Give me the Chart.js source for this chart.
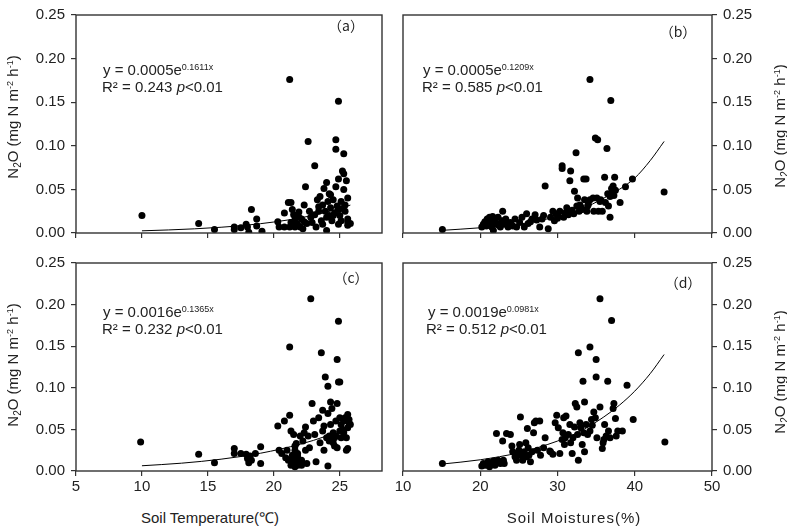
<!DOCTYPE html>
<html>
<head>
<meta charset="utf-8">
<script src="https://cdn.jsdelivr.net/npm/chart.js@4.4.1/dist/chart.umd.min.js"></script>
<style>
  body { margin: 0; background: #fff; width: 787px; height: 529px; position: relative; overflow: hidden;
         font-family: "Liberation Sans", Arial, sans-serif; color: #222; }
  canvas { position: absolute; }
  .t { position: absolute; white-space: nowrap; font-size: 15px; line-height: 17px; }
  .c { position: absolute; white-space: nowrap; transform: translate(-50%, -50%); }
  .yt { position: absolute; white-space: nowrap; font-size: 15px; transform: translate(-50%, -50%) rotate(-90deg); }
  .lab { font-family: "Noto Sans CJK SC", sans-serif; font-size: 14px; }
  sup.s { font-size: 9px; vertical-align: 5px; line-height: 0; }
  sup.u { font-size: 9px; vertical-align: 5px; line-height: 0; }
  sub { font-size: 10px; vertical-align: -3px; line-height: 0; }
</style>
</head>
<body>
<canvas id="pa" width="400" height="248" style="left:0;top:0"></canvas>
<canvas id="pb" width="397" height="248" style="left:390px;top:0"></canvas>
<canvas id="pc" width="400" height="252" style="left:0;top:248px"></canvas>
<canvas id="pd" width="397" height="252" style="left:390px;top:248px"></canvas>

<div class="t" style="left:103px;top:61px">y = 0.0005e<sup class="s">0.1611x</sup></div>
<div class="t" style="left:102px;top:78px">R² = 0.243 <i>p</i>&lt;0.01</div>
<div class="t" style="left:423px;top:61px">y = 0.0005e<sup class="s">0.1209x</sup></div>
<div class="t" style="left:422px;top:78px">R² = 0.585 <i>p</i>&lt;0.01</div>
<div class="t" style="left:103px;top:303px">y = 0.0016e<sup class="s">0.1365x</sup></div>
<div class="t" style="left:102px;top:320px">R² = 0.232 <i>p</i>&lt;0.01</div>
<div class="t" style="left:428px;top:303px">y = 0.0019e<sup class="s">0.0981x</sup></div>
<div class="t" style="left:426px;top:320px">R² = 0.512 <i>p</i>&lt;0.01</div>

<div class="c lab" style="left:346px;top:25px">（a）</div>
<div class="c lab" style="left:678px;top:31px">（b）</div>
<div class="c lab" style="left:351px;top:277px">（c）</div>
<div class="c lab" style="left:683px;top:282px">（d）</div>

<div class="yt" style="left:12px;top:117px">N<sub>2</sub>O (mg N m<sup class="u">-2</sup> h<sup class="u">-1</sup>)</div>
<div class="yt" style="left:779px;top:126px">N<sub>2</sub>O (mg N m<sup class="u">-2</sup> h<sup class="u">-1</sup>)</div>
<div class="yt" style="left:12px;top:365px">N<sub>2</sub>O (mg N m<sup class="u">-2</sup> h<sup class="u">-1</sup>)</div>
<div class="yt" style="left:779px;top:372px">N<sub>2</sub>O (mg N m<sup class="u">-2</sup> h<sup class="u">-1</sup>)</div>

<div class="c" style="left:210px;top:517px;font-size:15px">Soil Temperature(℃)</div>
<div class="c" style="left:574px;top:517px;font-size:15px;letter-spacing:1px">Soil Moistures(%)</div>

<script>
// (a) soil temperature vs N2O
const tempA = [10,14.3,15.5,17.0,17.0,17.5,17.9,18.0,18.1,18.3,
  18.7,18.7,19.1,20.3,20.4,20.8,20.8,21.1,21.2,21.2,
  21.3,21.4,21.5,21.6,21.6,21.7,21.8,21.9,22.0,22.1,
  22.2,22.3,22.3,22.4,22.6,22.7,22.8,23.1,23.1,23.2,
  23.3,23.4,23.5,23.6,23.7,23.7,23.8,23.9,24.0,24.0,
  24.1,24.2,24.2,24.3,24.4,24.5,24.6,24.7,24.7,24.7,
  24.8,24.9,24.9,24.9,25.0,25.1,25.1,25.2,25.3,25.3,
  25.3,25.4,25.5,25.6,25.6,25.6,23.4,24.5,24.9,24.0,
  21.3,21.7,22.5,25.6,25.4,24.3,21.9,22.9,25.8,25.2];
const n2oA = [0.020,0.011,0.004,0.007,0.004,0.006,0.010,0.007,0.001,0.027,
  0.016,0.008,0.002,0.013,0.007,0.023,0.007,0.035,0.176,0.007,
  0.035,0.027,0.021,0.015,0.007,0.020,0.010,0.018,0.007,0.016,
  0.005,0.013,0.032,0.053,0.105,0.025,0.018,0.077,0.021,0.007,
  0.038,0.025,0.042,0.014,0.032,0.010,0.051,0.025,0.003,0.058,
  0.036,0.045,0.020,0.029,0.014,0.038,0.023,0.053,0.107,0.096,
  0.031,0.151,0.010,0.062,0.020,0.036,0.014,0.071,0.068,0.091,
  0.050,0.025,0.060,0.009,0.016,0.040,0.030,0.020,0.027,0.018,
  0.012,0.009,0.011,0.013,0.032,0.044,0.024,0.012,0.011,0.028];
const fitXA = [10,12,14,16,18,20,22,24,25.8];
const fitYA = [0.0025,0.0035,0.0048,0.0066,0.0091,0.0126,0.0173,0.0239,0.032];

// (b) soil moisture vs N2O
const moistB = [15.1,20.2,20.4,20.6,20.8,20.9,21.2,21.3,21.5,21.6,
  21.7,21.9,22.1,22.3,22.6,22.8,22.9,23.1,23.3,23.6,
  23.9,24.2,24.5,24.7,25.1,25.4,25.7,26.0,26.2,26.7,
  27.1,27.3,27.7,28.0,28.4,28.8,29.1,29.4,29.6,29.8,
  30.1,30.3,30.6,30.6,30.8,31.0,31.2,31.4,31.6,31.7,
  31.9,32.1,32.2,32.4,32.5,32.6,32.8,32.9,33.2,33.4,
  33.5,33.7,33.8,33.9,34.2,34.2,34.6,34.7,34.9,35.1,
  35.2,35.3,35.5,35.8,36.1,36.2,36.4,36.6,36.8,36.8,
  36.9,37.0,37.1,37.2,37.3,37.4,37.5,38.1,38.8,39.7,
  43.8,21.0,21.4,22.0,22.4,23.0,24.0,26.5,28.2,30.0,
  31.5,33.0,34.0,35.6,36.5];
const n2oB = [0.004,0.007,0.010,0.013,0.008,0.016,0.018,0.012,0.007,0.019,
  0.003,0.016,0.010,0.018,0.007,0.014,0.025,0.010,0.016,0.007,
  0.012,0.008,0.016,0.007,0.012,0.018,0.007,0.022,0.011,0.016,
  0.021,0.015,0.007,0.016,0.054,0.005,0.018,0.025,0.014,0.022,
  0.019,0.025,0.077,0.074,0.018,0.023,0.029,0.021,0.060,0.071,
  0.026,0.022,0.048,0.092,0.031,0.040,0.025,0.032,0.027,0.062,
  0.038,0.062,0.025,0.031,0.176,0.038,0.040,0.025,0.109,0.040,
  0.107,0.025,0.036,0.025,0.064,0.035,0.097,0.031,0.018,0.042,
  0.152,0.051,0.047,0.054,0.043,0.064,0.049,0.035,0.053,0.062,
  0.047,0.011,0.014,0.012,0.009,0.013,0.010,0.013,0.020,0.017,
  0.024,0.030,0.033,0.038,0.045];
const fitXB = [15,20,25,30,33,36,38,40,42,43.8];
const fitYB = [0.003,0.006,0.010,0.019,0.027,0.040,0.050,0.063,0.083,0.105];

// (c) soil temperature vs N2O
const tempC = [9.9,14.3,15.5,17.0,17.0,17.5,17.9,18.0,18.1,18.2,
  18.3,18.6,19.0,19.0,20.3,20.4,20.6,20.8,20.9,21.0,
  21.1,21.2,21.2,21.3,21.3,21.4,21.5,21.5,21.6,21.6,
  21.7,21.7,21.8,21.8,21.9,22.0,22.1,22.1,22.2,22.3,
  22.4,22.4,22.5,22.6,22.7,22.8,22.9,23.0,23.1,23.2,
  23.4,23.5,23.6,23.7,23.7,23.8,23.8,23.9,24.0,24.1,
  24.1,24.1,24.2,24.3,24.3,24.4,24.5,24.5,24.6,24.7,
  24.7,24.8,24.8,24.8,24.9,24.9,25.0,25.0,25.1,25.1,
  25.3,25.3,25.4,25.5,25.5,25.6,25.6,25.7,25.8,25.6,
  21.4,21.8,22.0,21.6,24.6,25.2,24.4,25.7,25.0,24.2];
const n2oC = [0.035,0.020,0.010,0.027,0.021,0.021,0.020,0.015,0.010,0.018,
  0.013,0.021,0.029,0.009,0.054,0.025,0.021,0.060,0.016,0.025,
  0.013,0.067,0.149,0.007,0.048,0.019,0.044,0.009,0.025,0.005,
  0.015,0.033,0.007,0.021,0.011,0.042,0.007,0.013,0.036,0.046,
  0.053,0.025,0.009,0.042,0.028,0.207,0.081,0.060,0.044,0.011,
  0.064,0.034,0.142,0.048,0.073,0.025,0.054,0.113,0.040,0.102,
  0.069,0.006,0.036,0.056,0.083,0.075,0.034,0.046,0.030,0.060,
  0.042,0.134,0.081,0.028,0.107,0.180,0.064,0.048,0.040,0.056,
  0.060,0.046,0.064,0.025,0.040,0.052,0.027,0.062,0.056,0.068,
  0.012,0.018,0.009,0.030,0.040,0.050,0.038,0.058,0.107,0.042];
const fitXC = [10,13,16,19,22,24,25.8];
const fitYC = [0.0063,0.0094,0.0142,0.0214,0.0322,0.0421,0.054];

// (d) soil moisture vs N2O
const moistD = [15.1,20.2,20.4,20.7,21.0,21.2,21.5,21.7,21.9,22.1,
  22.3,22.6,22.9,23.0,23.1,23.4,23.9,24.1,24.2,24.5,
  24.7,25.0,25.1,25.2,25.2,25.5,25.7,25.9,26.0,26.1,
  26.2,26.5,26.7,26.9,27.0,27.2,27.4,27.7,27.8,28.2,
  28.4,29.1,29.4,29.7,29.9,30.1,30.3,30.6,30.7,30.8,
  30.9,31.1,31.4,31.6,31.7,31.9,32.0,32.2,32.3,32.5,
  32.6,32.7,32.7,32.9,33.2,33.3,33.4,33.5,33.5,33.7,
  33.9,34.2,34.2,34.4,34.7,34.9,35.0,35.0,35.1,35.5,
  35.5,35.8,35.9,36.1,36.3,36.5,36.6,36.8,37.0,37.2,
  37.3,37.5,37.6,37.8,38.4,39.0,39.8,43.9,24.8,25.6,
  26.3,22.0,21.3,31.0,33.0,36.0,34.5,29.0];
const n2oD = [0.009,0.006,0.009,0.007,0.011,0.005,0.009,0.012,0.007,0.045,
  0.013,0.009,0.036,0.013,0.009,0.045,0.044,0.030,0.023,0.017,
  0.013,0.025,0.032,0.065,0.019,0.013,0.023,0.034,0.017,0.051,
  0.028,0.011,0.023,0.046,0.058,0.060,0.025,0.060,0.019,0.028,
  0.040,0.023,0.020,0.058,0.067,0.052,0.021,0.038,0.046,0.064,
  0.032,0.066,0.044,0.056,0.034,0.021,0.040,0.053,0.081,0.077,
  0.044,0.142,0.013,0.058,0.032,0.108,0.046,0.083,0.023,0.056,
  0.044,0.149,0.048,0.062,0.071,0.064,0.134,0.113,0.040,0.207,
  0.077,0.027,0.034,0.056,0.042,0.108,0.048,0.040,0.181,0.075,
  0.081,0.063,0.042,0.048,0.048,0.103,0.062,0.035,0.021,0.017,
  0.019,0.011,0.008,0.040,0.052,0.038,0.055,0.024];
const fitXD = [15,20,25,30,33,36,38,40,42,43.8];
const fitYD = [0.0083,0.0135,0.022,0.036,0.048,0.065,0.079,0.096,0.117,0.140];

const ink = '#222';
const tickFont = { family: '"Liberation Sans", Arial, sans-serif', size: 15 };

// box around each plot area
const frame = {
  id: 'frame',
  afterDatasetsDraw(chart) {
    const a = chart.chartArea, ctx = chart.ctx;
    ctx.save();
    ctx.strokeStyle = '#333';
    ctx.lineWidth = 1.4;
    ctx.strokeRect(a.left, a.top, a.right - a.left, a.bottom - a.top);
    ctx.restore();
  }
};

function pairs(xs, ys) {
  return xs.map((x, i) => ({ x: x, y: ys[i] }));
}

// g: canvas box and wanted plot area, in page pixels
function panel(id, xs, ys, fx, fy, g) {
  const right = g.side === 'right';
  const yW = right ? g.cl + g.w - g.r : g.l - g.cl;
  const xH = g.ct + g.h - g.b;
  new Chart(document.getElementById(id), {
    type: 'scatter',
    data: {
      datasets: [
        { data: pairs(fx, fy), showLine: true, borderColor: '#000', borderWidth: 1,
          pointRadius: 0, cubicInterpolationMode: 'monotone', fill: false },
        { data: pairs(xs, ys), backgroundColor: '#000', borderColor: '#000',
          pointRadius: 3.5, pointBorderWidth: 0, pointHoverRadius: 3.5 }
      ]
    },
    options: {
      responsive: false,
      animation: false,
      layout: { padding: {
        top: g.t - g.ct,
        left: right ? g.l - g.cl : 0,
        right: right ? 0 : g.cl + g.w - g.r,
        bottom: 0 } },
      plugins: { legend: { display: false }, tooltip: { enabled: false } },
      scales: {
        x: {
          type: 'linear', min: g.xmin, max: g.xmax,
          border: { display: false },
          grid: { drawOnChartArea: false, drawTicks: true, tickLength: 5, color: '#333', lineWidth: 1.2 },
          ticks: { stepSize: g.xstep, includeBounds: false, color: ink, font: tickFont, padding: 2,
                   maxRotation: 0, callback: v => g.xlabels ? String(v) : '' },
          afterFit: s => { s.height = xH; }
        },
        y: {
          type: 'linear', min: 0, max: 0.25, position: right ? 'right' : 'left',
          border: { display: false },
          grid: { drawOnChartArea: false, drawTicks: true, tickLength: 5, color: '#333', lineWidth: 1.2 },
          ticks: { stepSize: 0.05, color: ink, font: tickFont, padding: 6,
                   callback: v => v.toFixed(2) },
          afterFit: s => { s.width = yW; }
        }
      }
    },
    plugins: [frame]
  });
}

panel('pa', tempA, n2oA, fitXA, fitYA,
  { cl: 0, ct: 0, w: 400, h: 248, l: 76, t: 10, r: 382, b: 236, side: 'left', xmin: 5, xmax: 28.2, xstep: 5, xlabels: false });
panel('pb', moistB, n2oB, fitXB, fitYB,
  { cl: 390, ct: 0, w: 397, h: 248, l: 403, t: 10, r: 712, b: 236, side: 'right', xmin: 10, xmax: 50, xstep: 10, xlabels: false });
panel('pc', tempC, n2oC, fitXC, fitYC,
  { cl: 0, ct: 248, w: 400, h: 252, l: 76, t: 257, r: 382, b: 471, side: 'left', xmin: 5, xmax: 28.2, xstep: 5, xlabels: true });
panel('pd', moistD, n2oD, fitXD, fitYD,
  { cl: 390, ct: 248, w: 397, h: 252, l: 403, t: 257, r: 712, b: 471, side: 'right', xmin: 10, xmax: 50, xstep: 10, xlabels: true });
</script>
</body>
</html>
